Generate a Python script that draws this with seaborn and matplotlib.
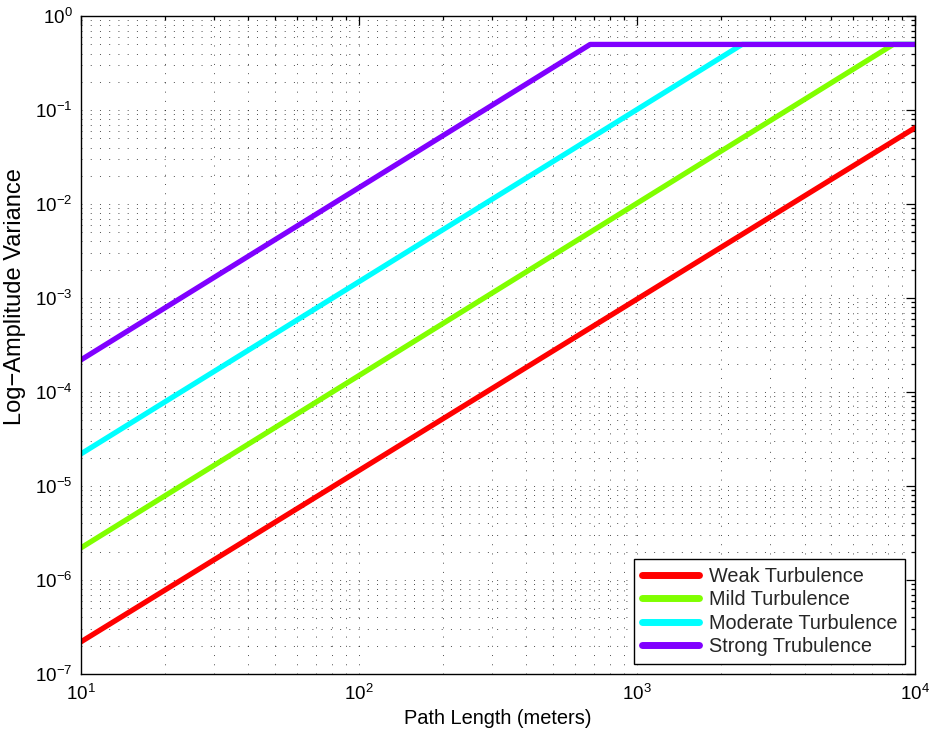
import matplotlib
matplotlib.use("Agg")
import matplotlib.pyplot as plt
from matplotlib.ticker import LogLocator, FixedLocator, NullFormatter
import seaborn as sns
import pandas as pd

# Log-amplitude variance vs. path length for four turbulence strengths
labels = ["Weak Turbulence", "Mild Turbulence", "Moderate Turbulence", "Strong Trubulence"]
colors = ["#ff0000", "#80ff00", "#00ffff", "#8000ff"]

weak_x = [10, 10000]
weak_y = [2.2e-7, 6.5e-2]
mild_x = [10, 8340, 10000]
mild_y = [2.2e-6, 0.5, 0.5]
moderate_x = [10, 2385, 10000]
moderate_y = [2.2e-5, 0.5, 0.5]
strong_x = [10, 678, 10000]
strong_y = [2.2e-4, 0.5, 0.5]

x_decades = [1e1, 1e2, 1e3, 1e4]
y_decades = [1e-7, 1e-6, 1e-5, 1e-4, 1e-3, 1e-2, 1e-1, 1e0]

series = [(weak_x, weak_y), (mild_x, mild_y), (moderate_x, moderate_y), (strong_x, strong_y)]
frames = []
for lab, (xs, ys) in zip(labels, series):
    frames.append(pd.DataFrame({"Path Length": xs, "Variance": ys, "Regime": lab}))
df = pd.concat(frames, ignore_index=True)

sns.set_theme(style="white")
plt.rcParams["font.family"] = ["Liberation Sans", "DejaVu Sans"]
plt.rcParams["mathtext.default"] = "regular"

fig = plt.figure(figsize=(9.31, 7.40), dpi=100)
ax = fig.add_axes([0.087, 0.0892, 0.896, 0.889])

sns.lineplot(data=df, x="Path Length", y="Variance", hue="Regime",
             hue_order=labels, palette=colors, estimator=None, sort=False,
             linewidth=3.8, ax=ax)

ax.set_xscale("log")
ax.set_yscale("log")
ax.set_xlim(x_decades[0], x_decades[-1])
ax.set_ylim(y_decades[0], y_decades[-1])

ax.xaxis.set_major_locator(FixedLocator(x_decades))
ax.yaxis.set_major_locator(FixedLocator(y_decades))
ax.xaxis.set_minor_locator(LogLocator(base=10, subs=range(2, 10), numticks=20))
ax.yaxis.set_minor_locator(LogLocator(base=10, subs=range(2, 10), numticks=20))
ax.xaxis.set_minor_formatter(NullFormatter())
ax.yaxis.set_minor_formatter(NullFormatter())
ax.xaxis.get_offset_text().set_visible(False)
ax.yaxis.get_offset_text().set_visible(False)

ax.grid(True, which="both", color="black", linestyle=(0, (1, 8.5)), linewidth=0.7, alpha=0.7)
ax.set_axisbelow(True)

ax.tick_params(which="both", direction="in", top=True, right=True, colors="black",
               labelsize=13.5, width=0.9)
ax.tick_params(which="major", length=6.5)
ax.tick_params(which="minor", length=3.2)
ax.tick_params(axis="x", which="major", pad=7)
ax.tick_params(axis="y", which="major", pad=6)
for sp in ax.spines.values():
    sp.set_color("black")
    sp.set_linewidth(1.0)

ax.set_xlabel("Path Length (meters)", fontsize=14.4, color="black", labelpad=4)
ax.set_ylabel("Log\u2212Amplitude Variance", fontsize=17, color="black")
ax.yaxis.set_label_coords(-0.066, 0.573)

leg = ax.legend(loc="lower right", bbox_to_anchor=(0.988, 0.0152), borderaxespad=0,
                fontsize=14.3, frameon=True, fancybox=False,
                edgecolor="black", framealpha=1,
                handlelength=2.85, handletextpad=0.5, labelspacing=0.22,
                borderpad=0.4)
leg.get_frame().set_linewidth(1.0)
for h in leg.get_lines():
    h.set_linewidth(5)

fig.savefig("out.png", dpi=100)
